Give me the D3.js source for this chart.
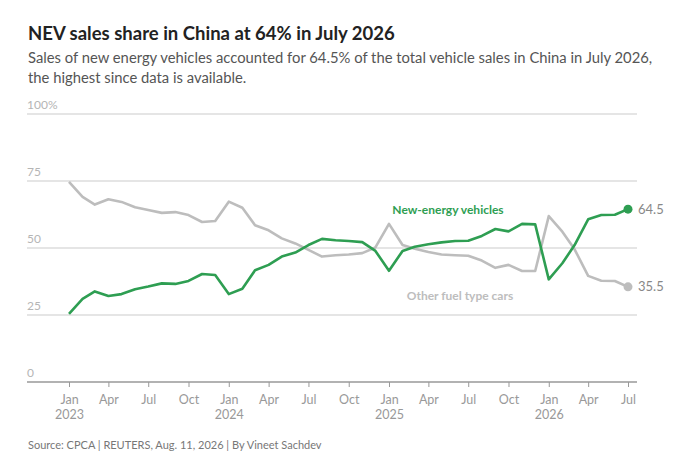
<!DOCTYPE html>
<html>
<head>
<meta charset="utf-8">
<script src="https://cdn.jsdelivr.net/npm/d3@7"></script>
<style>
  body { margin: 0; background: #fff; }
  svg { display: block; font-family: Lato, "Noto Sans", sans-serif; }
</style>
</head>
<body>
<div id="chart"></div>
<script>
// monthly share of total vehicle sales (%), Jan 2023 .. Jul 2026
const months = d3.timeMonths(new Date(2023, 0, 1), new Date(2026, 7, 1));
const nevShare = [25.4, 31.0, 33.8, 32.1, 32.8, 34.6, 35.6, 36.8, 36.6, 37.7, 40.3, 39.9,
  32.8, 34.8, 41.7, 43.7, 46.8, 48.3, 51.1, 53.4, 52.9, 52.6, 52.2, 48.9,
  41.5, 48.9, 50.5, 51.4, 52.1, 52.6, 52.7, 54.5, 57.1, 56.2, 59.0, 58.8,
  38.3, 44.3, 51.1, 60.7, 62.3, 62.4, 64.5];
const otherShare = [74.7, 69.1, 66.2, 68.2, 67.2, 65.2, 64.2, 63.1, 63.4, 62.3, 59.7, 60.1,
  67.3, 65.0, 58.5, 56.6, 53.6, 51.7, 49.3, 46.8, 47.3, 47.6, 48.1, 50.2,
  59.0, 51.1, 49.7, 48.5, 47.6, 47.3, 47.1, 45.3, 42.6, 43.7, 41.4, 41.4,
  61.9, 56.1, 49.5, 39.6, 37.8, 37.7, 35.5];
const yTicks = [0, 25, 50, 75, 100];
const monthNames = ["Jan", "Apr", "Jul", "Oct"];

const W = 700, H = 467;
const green = "#2e9e52", grey = "#bdbdbd";

const svg = d3.select("#chart").append("svg")
  .attr("width", W).attr("height", H);

const x = d3.scaleTime()
  .domain([months[0], months[months.length - 1]])
  .range([69, 628]);
const y = d3.scaleLinear().domain([0, 100]).range([382, 114]);

// titles
svg.append("text").attr("x", 28).attr("y", 40)
  .attr("font-size", 18.5).attr("font-weight", 700).attr("fill", "#222")
  .text("NEV sales share in China at 64% in July 2026");
const sub = svg.append("text").attr("font-size", 14.8).attr("fill", "#555");
sub.append("tspan").attr("x", 28).attr("y", 63)
  .text("Sales of new energy vehicles accounted for 64.5% of the total vehicle sales in China in July 2026,");
sub.append("tspan").attr("x", 28).attr("y", 83)
  .text("the highest since data is available.");

// gridlines
svg.append("g").selectAll("line")
  .data(yTicks.filter(d => d > 0))
  .join("line")
  .attr("x1", 27).attr("x2", 637)
  .attr("y1", d => y(d)).attr("y2", d => y(d))
  .attr("stroke", "#dcdcdc").attr("stroke-width", 1.5);

svg.append("g").selectAll("text")
  .data(yTicks)
  .join("text")
  .attr("x", 27).attr("y", d => y(d) - 5)
  .attr("font-size", 12).attr("fill", "#b5b5b5")
  .text(d => d === 100 ? "100%" : d);

// x axis
const xAxis = svg.append("g").attr("transform", `translate(0,${y(0)})`)
  .call(d3.axisBottom(x)
    .tickValues(d3.timeMonths(months[0], d3.timeMonth.offset(months[months.length - 1], 1), 3))
    .tickSize(5).tickFormat(() => ""));
xAxis.select(".domain").remove();
xAxis.selectAll(".tick line").attr("stroke", "#999");
svg.append("line").attr("x1", 27).attr("x2", 637)
  .attr("y1", y(0)).attr("y2", y(0))
  .attr("stroke", "#999").attr("stroke-width", 1.5);

xAxis.selectAll(".tick").each(function(d) {
  const t = d3.select(this).select("text")
    .attr("y", 0).attr("dy", null)
    .attr("font-family", "Lato, sans-serif")
    .attr("font-size", 12.5).attr("fill", "#999");
  t.append("tspan").attr("x", 0).attr("y", 22).text(monthNames[d.getMonth() / 3]);
  if (d.getMonth() === 0) t.append("tspan").attr("x", 0).attr("y", 37).text(d.getFullYear());
});

// lines
const line = d3.line().x((d, i) => x(months[i])).y(d => y(d));
svg.append("path").datum(otherShare).attr("d", line)
  .attr("fill", "none").attr("stroke", grey).attr("stroke-width", 2.6)
  .attr("stroke-linejoin", "round");
svg.append("path").datum(nevShare).attr("d", line)
  .attr("fill", "none").attr("stroke", green).attr("stroke-width", 2.6)
  .attr("stroke-linejoin", "round");

const last = months.length - 1;
[[nevShare, green], [otherShare, grey]].forEach(([s, c]) => {
  svg.append("circle").attr("cx", x(months[last])).attr("cy", y(s[last]))
    .attr("r", 4.5).attr("fill", c);
  svg.append("text").attr("x", x(months[last]) + 10).attr("y", y(s[last]) + 4.5)
    .attr("font-size", 13).attr("fill", "#888").text(s[last]);
});

// series labels
svg.append("text").attr("x", 448).attr("y", 214).attr("text-anchor", "middle")
  .attr("font-size", 12).attr("font-weight", 700).attr("fill", green)
  .text("New-energy vehicles");
svg.append("text").attr("x", 460).attr("y", 300).attr("text-anchor", "middle")
  .attr("font-size", 12).attr("font-weight", 700).attr("fill", "#bdbdbd")
  .text("Other fuel type cars");

// source
svg.append("text").attr("x", 28).attr("y", 449)
  .attr("font-size", 11).attr("fill", "#777")
  .text("Source: CPCA | REUTERS, Aug. 11, 2026 | By Vineet Sachdev");
</script>
</body>
</html>
